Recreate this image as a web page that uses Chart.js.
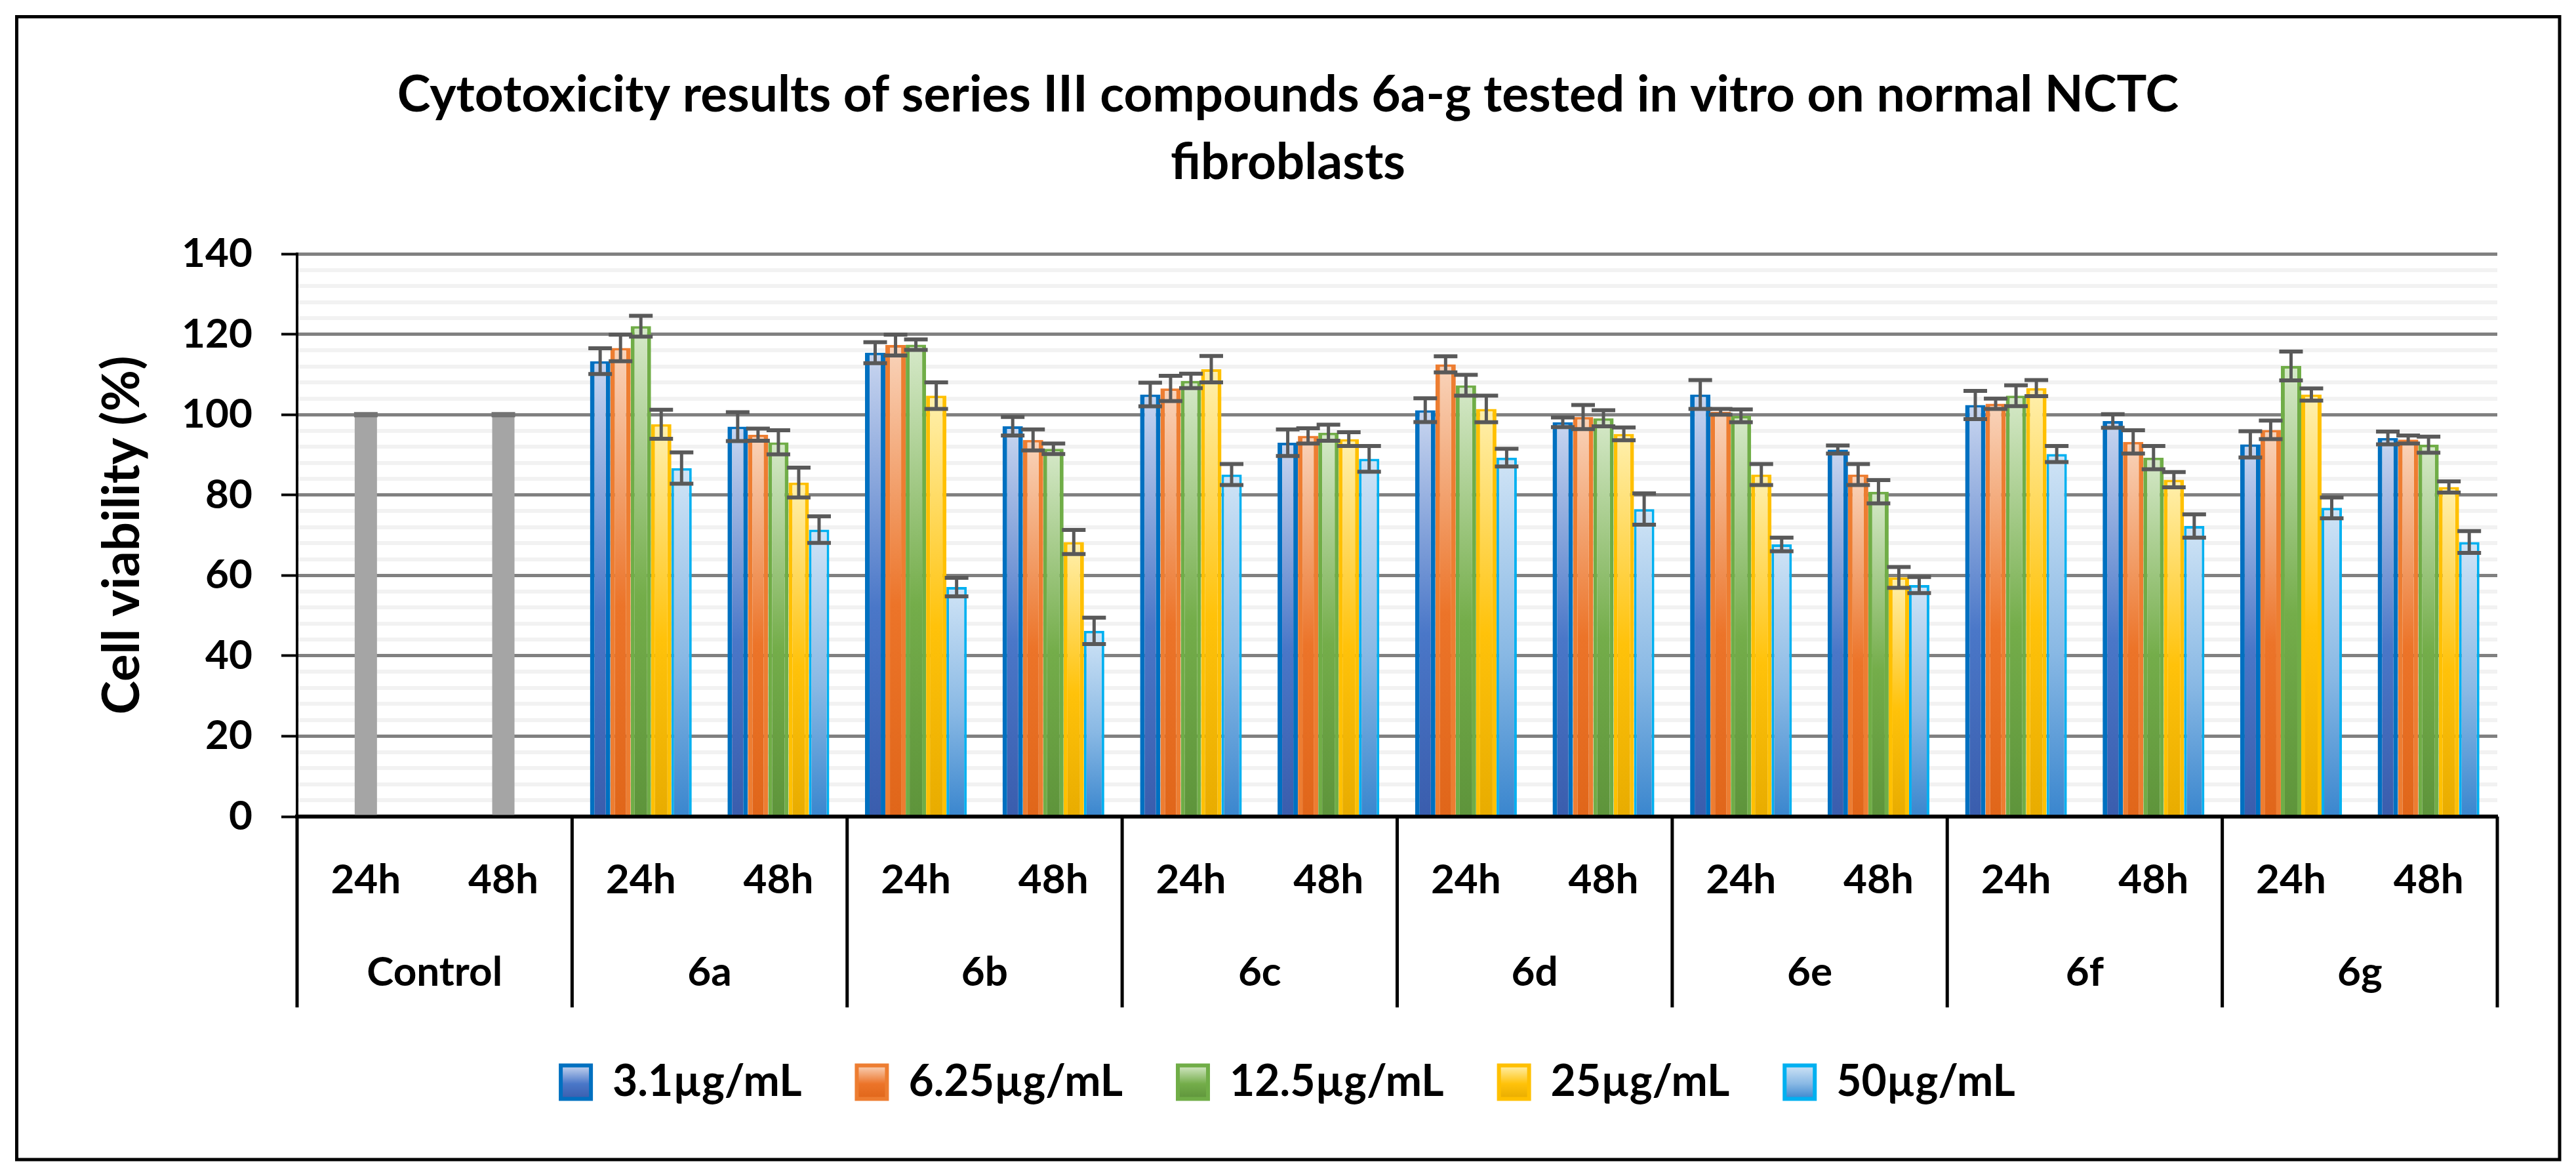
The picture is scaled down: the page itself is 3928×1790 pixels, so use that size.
<!DOCTYPE html>
<html>
<head>
<meta charset="utf-8">
<script src="https://cdn.jsdelivr.net/npm/chart.js@4.4.1/dist/chart.umd.min.js"></script>
<style>
html,body{margin:0;padding:0;background:#fff;}
#wrap{width:3928px;height:1790px;}
</style>
</head>
<body>
<div id="wrap"><canvas id="c" width="3928" height="1790" style="width:3928px;height:1790px"></canvas></div>
<script>
// ---------- DATA ----------
const subLabels = ['24h','48h','24h','48h','24h','48h','24h','48h','24h','48h','24h','48h','24h','48h','24h','48h'];
const groupLabels = ['Control','6a','6b','6c','6d','6e','6f','6g'];
const seriesNames = ['3.1µg/mL','6.25µg/mL','12.5µg/mL','25µg/mL','50µg/mL'];
const titleLines = ['Cytotoxicity results of series III compounds 6a-g tested in vitro on normal NCTC','fibroblasts'];
const yTitle = 'Cell viability (%)';

const controlVals = [100,100,null,null,null,null,null,null,null,null,null,null,null,null,null,null];
const controlErr  = [0,0,null,null,null,null,null,null,null,null,null,null,null,null,null,null];

const v31  = [null,null,113.3,97.0,115.4,97.1,105.0,93.0,101.1,98.1,105.0,91.3,102.4,98.4,92.6,94.2];
const e31  = [null,null,3.2,3.6,2.6,2.3,2.95,3.3,2.95,1.2,3.6,1.0,3.5,1.7,3.25,1.6];
const v625 = [null,null,116.6,95.0,117.3,93.7,106.5,94.7,112.5,99.4,100.7,85.1,102.7,93.2,96.2,93.8];
const e625 = [null,null,3.3,1.5,2.6,2.6,3.15,1.9,2.0,3.0,0.7,2.6,1.3,2.9,2.3,1.0];
const v125 = [null,null,122.0,93.1,117.4,91.5,108.4,95.5,107.3,99.1,99.7,80.8,104.7,89.3,112.1,92.5];
const e125 = [null,null,2.6,3.0,1.3,1.3,1.8,2.0,2.6,2.0,1.6,2.9,2.6,2.9,3.6,2.0];
const v25  = [null,null,97.6,83.1,104.7,68.3,111.3,93.9,101.4,95.2,85.1,59.5,106.6,83.8,105.0,82.0];
const e25  = [null,null,3.6,3.7,3.3,3.0,3.3,1.7,3.3,1.6,2.6,2.6,2.0,1.9,1.5,1.4];
const v50  = [null,null,86.7,71.4,57.1,46.2,85.1,89.0,89.3,76.5,67.7,57.6,90.2,72.3,76.8,68.3];
const e50  = [null,null,3.9,3.3,2.3,3.3,2.6,3.2,2.2,3.9,1.7,2.0,2.0,2.9,2.6,2.7];

const seriesValues = [v31, v625, v125, v25, v50];
const seriesErrors = [e31, e625, e125, e25, e50];

// ---------- STYLES ----------
const seriesStyle = [
  {border:'#0070C0', side:7, stops:['#C9D6F0','#4A77C8','#3A5DAD']},
  {border:'#ED7D31', side:7, stops:['#F9D4BB','#EC7429','#E0661A']},
  {border:'#70AD47', side:6, stops:['#D6E9C9','#74AD4A','#5E943B']},
  {border:'#FFC000', side:6, stops:['#FFF0AE','#FFC20A','#E8AC00']},
  {border:'#00B0F0', side:4, stops:['#D0E4F6','#88B8E4','#3A86CE']}
];
const FONT = 'Lato';
const tickSize = 62;
const legendSize = 66;
const legendPad = 84, legendBoxW = 46, legendBoxH = 51;

function makeGrad(c2d, y0, y1, stops){
  const g = c2d.createLinearGradient(0, y0, 0, y1);
  g.addColorStop(0, stops[0]);
  g.addColorStop(0.55, stops[1]);
  g.addColorStop(1, stops[2]);
  return g;
}
function barBg(st){
  return (c) => {
    const ch = c.chart;
    const ys = ch.scales && ch.scales.y;
    if (c.type === 'data' && ys && c.raw !== null && c.raw !== undefined) {
      const top = ys.getPixelForValue(c.raw), bot = ys.getPixelForValue(0);
      if (isFinite(top) && isFinite(bot) && bot > top) return makeGrad(ch.ctx, top, bot, st.stops);
    }
    return st.stops[1];
  };
}

function fitSize(text, target){
  const cv = document.createElement('canvas').getContext('2d');
  cv.font = 'bold 100px ' + FONT;
  return 100 * target / cv.measureText(text).width;
}

// ---------- PLUGINS ----------
const bgPlugin = {
  id: 'bg',
  beforeDraw(chart){
    const ctx = chart.ctx;
    ctx.save(); ctx.fillStyle = '#fff'; ctx.fillRect(0,0,chart.width,chart.height); ctx.restore();
  },
  afterDraw(chart){
    const ctx = chart.ctx;
    ctx.save(); ctx.strokeStyle = '#000'; ctx.lineWidth = 5;
    ctx.strokeRect(25.5, 25.5, 3903 - 25.5, 1768 - 25.5);
    ctx.restore();
  }
};

const errPlugin = {
  id: 'errbars',
  afterDatasetsDraw(chart){
    const ys = chart.scales.y, ctx = chart.ctx;
    ctx.save();
    chart.data.datasets.forEach((ds, di) => {
      const meta = chart.getDatasetMeta(di);
      meta.data.forEach((el, i) => {
        const v = ds.data[i], e = ds.errors ? ds.errors[i] : null;
        if (v === null || v === undefined || e === null || e === undefined) return;
        const x = el.x;
        const yt = ys.getPixelForValue(v + e), yb = ys.getPixelForValue(v - e);
        if (e > 0) {
          ctx.strokeStyle = '#595959';
          ctx.lineWidth = 5;
          ctx.beginPath(); ctx.moveTo(x, yt); ctx.lineTo(x, yb); ctx.stroke();
          ctx.lineWidth = 6;
          ctx.beginPath();
          ctx.moveTo(x - 18, yt); ctx.lineTo(x + 18, yt);
          ctx.moveTo(x - 18, yb); ctx.lineTo(x + 18, yb);
          ctx.stroke();
        } else {
          ctx.strokeStyle = '#737373';
          ctx.lineWidth = 8;
          ctx.beginPath(); ctx.moveTo(x - 18, yt); ctx.lineTo(x + 18, yt); ctx.stroke();
        }
      });
    });
    ctx.restore();
  }
};

const groupPlugin = {
  id: 'groups',
  afterDraw(chart){
    const xs = chart.scales.x, ctx = chart.ctx;
    const half = (xs.getPixelForValue(1) - xs.getPixelForValue(0)) / 2;
    ctx.save();
    ctx.strokeStyle = '#000'; ctx.lineWidth = 5;
    for (let g = 0; g <= groupLabels.length; g++) {
      const x = g < groupLabels.length ? xs.getPixelForValue(2*g) - half : xs.getPixelForValue(2*g - 1) + half;
      ctx.beginPath(); ctx.moveTo(x, xs.top); ctx.lineTo(x, xs.bottom + 3); ctx.stroke();
    }
    ctx.fillStyle = '#000';
    ctx.font = 'bold ' + tickSize + 'px ' + FONT;
    ctx.textAlign = 'center'; ctx.textBaseline = 'middle';
    groupLabels.forEach((lab, g) => {
      const cx = (xs.getPixelForValue(2*g) + xs.getPixelForValue(2*g + 1)) / 2;
      ctx.fillText(lab, cx, xs.top + 238);
    });
    ctx.restore();
  }
};

function build(){
  const titleSize = fitSize(titleLines[0], 2717);
  const yTitleSize = fitSize(yTitle, 547);

  const datasets = seriesNames.map((name, i) => ({
    label: name,
    data: seriesValues[i],
    errors: seriesErrors[i],
    backgroundColor: barBg(seriesStyle[i]),
    borderColor: seriesStyle[i].border,
    borderWidth: {left: seriesStyle[i].side, right: seriesStyle[i].side, top: 4, bottom: 0},
    borderSkipped: false
  }));
  datasets.push({
    label: 'Control',
    data: controlVals,
    errors: controlErr,
    backgroundColor: '#A5A5A5',
    borderWidth: 0,
    maxBarThickness: 34
  });

  new Chart(document.getElementById('c'), {
    type: 'bar',
    data: { labels: subLabels, datasets },
    options: {
      responsive: false,
      animation: false,
      devicePixelRatio: 1,
      layout: { padding: { left: 0, right: 0, top: 0, bottom: 97 } },
      datasets: { bar: { skipNull: true, categoryPercentage: 0.74, barPercentage: 1 } },
      plugins: {
        title: {
          display: true,
          text: titleLines,
          color: '#000',
          font: { family: FONT, weight: 'bold', size: titleSize, lineHeight: 103 / titleSize },
          padding: { top: 93.5, bottom: 87.5 }
        },
        legend: {
          position: 'bottom',
          labels: {
            color: '#000',
            font: { family: FONT, weight: 'bold', size: legendSize },
            boxWidth: legendBoxW,
            boxHeight: legendBoxH,
            padding: legendPad,
            generateLabels(chart){
              const items = Chart.defaults.plugins.legend.labels.generateLabels(chart).filter(it => it.datasetIndex < seriesNames.length);
              const lg = chart.legend;
              items.forEach(it => {
                it.strokeStyle = seriesStyle[it.datasetIndex].border;
                it.lineWidth = 6;
                if (lg && isFinite(lg.top)) {
                  const y0 = lg.top + legendPad + Math.max((legendSize - legendBoxH) / 2, 0);
                  it.fillStyle = makeGrad(chart.ctx, y0, y0 + legendBoxH, seriesStyle[it.datasetIndex].stops);
                } else {
                  it.fillStyle = seriesStyle[it.datasetIndex].stops[1];
                }
              });
              return items;
            }
          }
        },
        tooltip: { enabled: false }
      },
      scales: {
        x: {
          type: 'category',
          offset: true,
          grid: { display: false, drawTicks: false },
          border: { display: true, color: '#000', width: 6 },
          ticks: {
            color: '#000',
            font: { family: FONT, weight: 'bold', size: tickSize, lineHeight: 1.2 },
            padding: 60,
            maxRotation: 0,
            autoSkip: false
          },
          afterFit(s){ s.height = 288; }
        },
        y: {
          type: 'linear',
          position: 'left',
          min: 0, max: 140,
          grid: {
            color: (c) => (c.tick && c.tick.value % 20 === 0) ? '#808080' : '#F2F2F2',
            lineWidth: (c) => (c.tick && c.tick.value % 20 === 0) ? 5 : 6,
            tickColor: (c) => (c.tick && c.tick.value % 20 === 0) ? '#000' : 'rgba(0,0,0,0)',
            tickLength: 24,
            tickWidth: 4,
            drawTicks: true
          },
          border: { display: true, color: '#000', width: 4 },
          ticks: {
            stepSize: 4,
            autoSkip: false,
            color: '#000',
            padding: 44,
            font: { family: FONT, weight: 'bold', size: tickSize },
            callback: (v) => (v % 20 === 0 ? String(v) : '')
          },
          title: {
            display: true,
            text: yTitle,
            color: '#000',
            font: { family: FONT, weight: 'bold', size: yTitleSize, lineHeight: 1.2 },
            padding: { top: 187 - yTitleSize * 0.6, bottom: 0 }
          },
          afterFit(s){ s.width = 453; }
        },
        yr: {
          type: 'linear',
          position: 'right',
          display: true,
          grid: { display: false, drawTicks: false },
          border: { display: false },
          ticks: { display: false },
          afterFit(s){ s.width = 120; }
        }
      }
    },
    plugins: [bgPlugin, errPlugin, groupPlugin]
  });
}

if (document.fonts && document.fonts.load) {
  Promise.all([document.fonts.load('bold 62px Lato')]).then(build, build);
} else { build(); }
</script>
</body>
</html>
